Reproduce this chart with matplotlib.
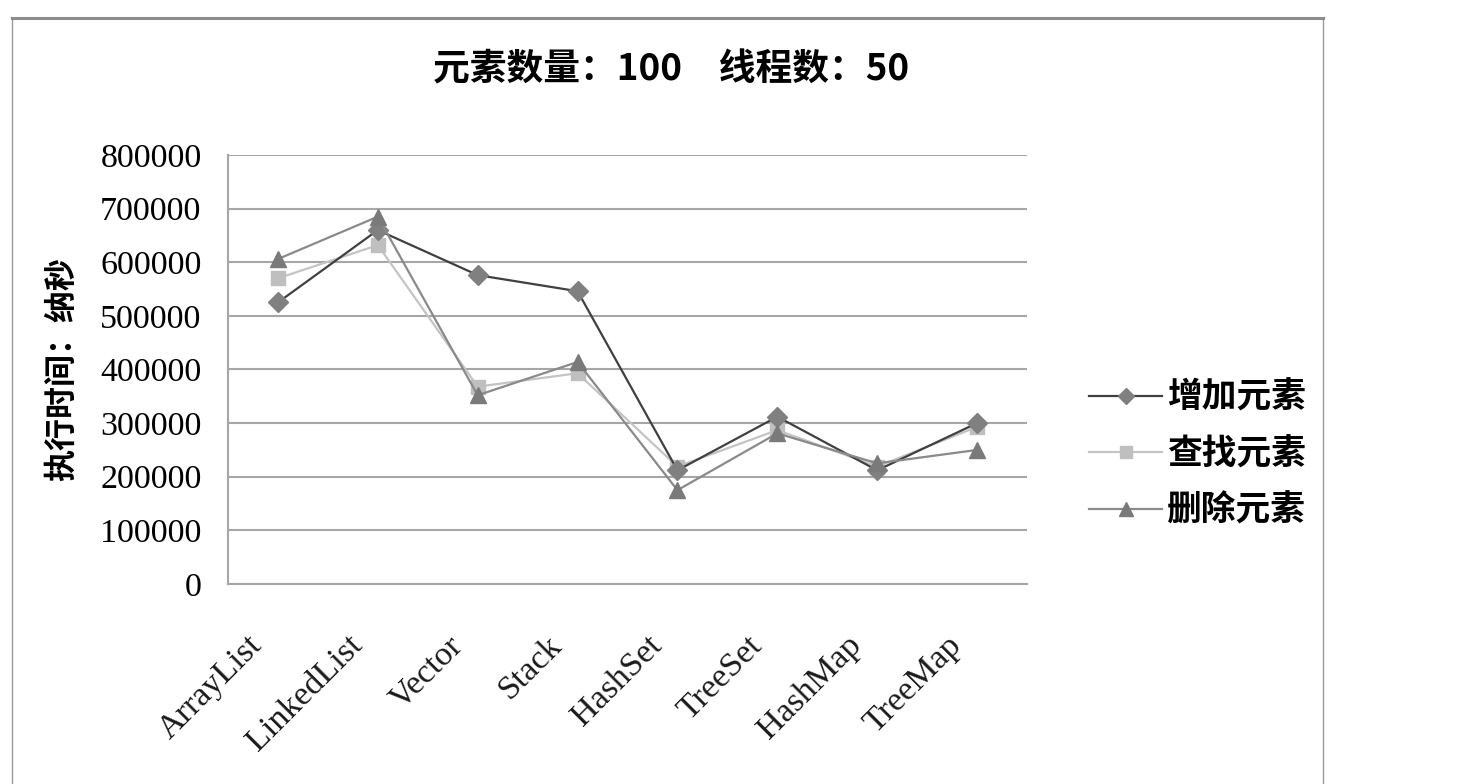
import matplotlib
matplotlib.use('Agg')
import matplotlib.pyplot as plt
from matplotlib.patches import Rectangle
from matplotlib.lines import Line2D
from matplotlib.transforms import ScaledTranslation

plt.rcParams['font.family'] = ['Noto Sans CJK SC', 'DejaVu Sans']

categories = ['ArrayList', 'LinkedList', 'Vector', 'Stack',
              'HashSet', 'TreeSet', 'HashMap', 'TreeMap']
add_times = [525000, 660000, 576000, 546000, 212000, 312000, 212000, 300000]
find_times = [570000, 632000, 368000, 393000, 219000, 287000, 219000, 293000]
remove_times = [606000, 685000, 352000, 414000, 175000, 281000, 225000, 250000]
series_names = ['增加元素', '查找元素', '删除元素']
y_ticks = [0, 100000, 200000, 300000, 400000, 500000, 600000, 700000, 800000]

fig = plt.figure(figsize=(14.6, 7.84), dpi=100)
fig.patch.set_facecolor('white')

# chart area frame, bottom edge runs off the page
fig.patches.append(Rectangle((12 / 1460, -0.05), (1323 - 12) / 1460, 1.05 - 18 / 784,
                             transform=fig.transFigure, fill=False,
                             edgecolor='#9a9a9a', linewidth=1.0))
fig.lines.append(Line2D([12 / 1460, 1323 / 1460], [1 - 18 / 784, 1 - 18 / 784],
                        transform=fig.transFigure, color='#8c8c8c', linewidth=2.2))

ax = fig.add_axes([228 / 1460, 200 / 784, 799 / 1460, 429 / 784])
xs = list(range(len(categories)))

ax.plot(xs, add_times, color='#404040', linewidth=1.6, marker='D', markersize=10,
        markerfacecolor='#808080', markeredgecolor='#808080', label=series_names[0], zorder=5)
ax.plot(xs, find_times, color='#c4c4c4', linewidth=1.6, marker='s', markersize=10,
        markerfacecolor='#bfbfbf', markeredgecolor='#bfbfbf', label=series_names[1], zorder=4)
ax.plot(xs, remove_times, color='#8a8a8a', linewidth=1.6, marker='^', markersize=12,
        markerfacecolor='#7a7a7a', markeredgecolor='#7a7a7a', label=series_names[2], zorder=6)

ax.set_xlim(-0.5, len(categories) - 0.5)
ax.set_ylim(0, 800000)
ax.set_yticks(y_ticks)
ax.set_yticklabels([str(v) for v in y_ticks], family='Liberation Serif', fontsize=24.5)
ax.yaxis.grid(True, color='#a6a6a6', linewidth=1.5)
ax.set_axisbelow(True)
ax.tick_params(axis='y', length=0, pad=19)

ax.set_xticks(xs)
ax.set_xticklabels(categories, family='Liberation Serif', fontsize=24.5, color='#1a1a1a',
                   rotation=45, ha='right', va='center', rotation_mode='anchor')
ax.tick_params(axis='x', length=0, pad=41)
# nudge the slanted names a little to the left of their ticks
shift = ScaledTranslation(-0.2, 0, fig.dpi_scale_trans)
for lbl in ax.get_xticklabels():
    lbl.set_transform(lbl.get_transform() + shift)

for side in ['top', 'right']:
    ax.spines[side].set_visible(False)
for side in ['left', 'bottom']:
    ax.spines[side].set_color('#a6a6a6')
    ax.spines[side].set_linewidth(1.5)

ax.set_ylabel('执行时间：纳秒', fontsize=23, fontweight='bold', labelpad=16)

fig.text(671 / 1460, 1 - 70 / 784, '元素数量：100　线程数：50', fontsize=26.5,
         fontweight='bold', ha='center', va='center')

fig.legend(loc='center left', bbox_to_anchor=(1058 / 1460, 1 - 454 / 784), frameon=False,
           handlelength=2.1, labelspacing=0.62, handletextpad=0.15, markerscale=0.8,
           prop={'weight': 'bold', 'size': 25})

fig.savefig('out.png', dpi=100)
